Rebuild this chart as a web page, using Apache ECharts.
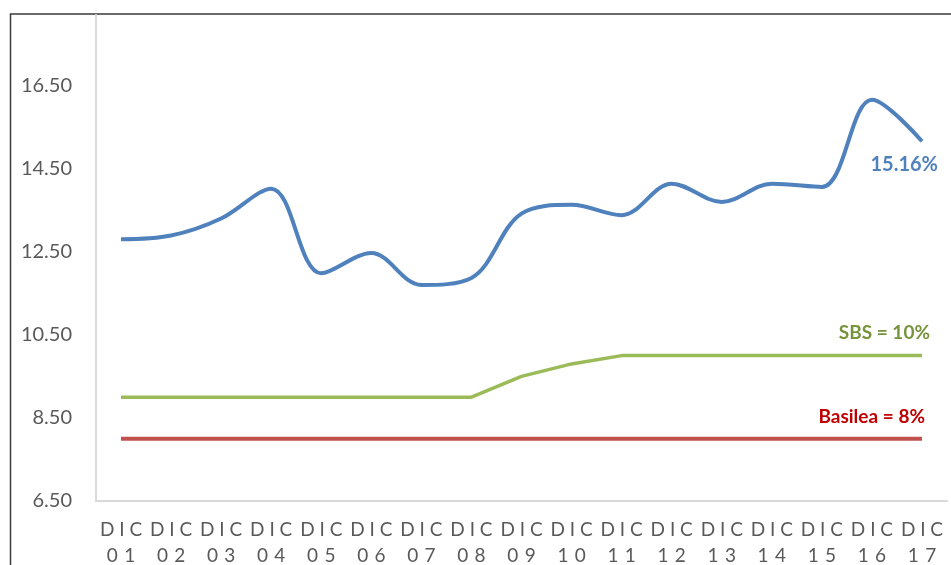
<!DOCTYPE html>
<html>
<head>
<meta charset="utf-8">
<script src="https://cdn.jsdelivr.net/npm/echarts@6/dist/echarts.min.js"></script>
<style>
  html, body { margin: 0; padding: 0; background: #ffffff; overflow: hidden; }
  #chart { width: 951px; height: 565px; }
</style>
</head>
<body>
<div id="chart"></div>
<script>
// Periods (December of each year)
const categories = ['DIC 01', 'DIC 02', 'DIC 03', 'DIC 04', 'DIC 05', 'DIC 06', 'DIC 07', 'DIC 08', 'DIC 09',
  'DIC 10', 'DIC 11', 'DIC 12', 'DIC 13', 'DIC 14', 'DIC 15', 'DIC 16', 'DIC 17'];

// Capital ratio of the system (%)
const ratioValues = [12.80, 12.89, 13.30, 14.02, 11.98, 12.47, 11.70, 11.87, 13.42,
  13.63, 13.38, 14.14, 13.70, 14.14, 14.06, 16.16, 15.16];

// SBS regulatory minimum (%)
const sbsValues = [9.0, 9.0, 9.0, 9.0, 9.0, 9.0, 9.0, 9.0, 9.5,
  9.8, 10.0, 10.0, 10.0, 10.0, 10.0, 10.0, 10.0];

// Basel minimum (%)
const basileaValues = [8.0, 8.0, 8.0, 8.0, 8.0, 8.0, 8.0, 8.0, 8.0,
  8.0, 8.0, 8.0, 8.0, 8.0, 8.0, 8.0, 8.0];

// Y axis tick labels
const yTicks = [6.5, 8.5, 10.5, 12.5, 14.5, 16.5];

const FONT = 'Lato, "Open Sans", sans-serif';
const last = categories.length - 1;

function endOnly(fmt) {
  return function (p) { return p.dataIndex === last ? fmt(p.value) : ''; };
}

const chart = echarts.init(document.getElementById('chart'), null, { renderer: 'canvas' });

chart.setOption({
  backgroundColor: '#ffffff',
  animation: false,
  grid: { left: 96, right: 4, top: 15, height: 486, containLabel: false, outerBoundsMode: 'none' },
  xAxis: {
    type: 'category',
    data: categories,
    boundaryGap: true,
    axisLine: { show: true, lineStyle: { color: '#d9d9d9', width: 2 } },
    axisTick: { show: false },
    axisLabel: {
      interval: 0,
      margin: 16,
      color: '#595959',
      fontFamily: FONT,
      fontSize: 19,
      lineHeight: 26,
      formatter: function (v) {
        const parts = v.split(' ');
        return parts[0].split('').join(' ') + '\n' + parts[1].split('').join('\u2004');
      }
    },
    splitLine: { show: false }
  },
  yAxis: {
    type: 'value',
    min: 6.5,
    max: 18.2,
    interval: 2,
    axisLine: { show: true, lineStyle: { color: '#d9d9d9', width: 2 } },
    axisTick: { show: false },
    splitLine: { show: false },
    axisLabel: {
      margin: 24,
      color: '#595959',
      fontFamily: FONT,
      fontSize: 20,
      showMaxLabel: false,
      formatter: function (v) {
        return yTicks.some(t => Math.abs(t - v) < 1e-6) ? v.toFixed(2) : '';
      }
    }
  },
  series: [
    {
      name: 'Basilea',
      type: 'line',
      data: basileaValues,
      symbol: 'circle',
      symbolSize: 0,
      showSymbol: true,
      lineStyle: { color: '#C0504D', width: 4 },
      itemStyle: { color: '#C0504D' },
      label: {
        show: true,
        position: 'top',
        align: 'right',
        distance: 12,
        offset: [3, 0],
        color: '#C00000',
        fontFamily: FONT,
        fontWeight: 'bold',
        fontSize: 19,
        formatter: endOnly(v => 'Basilea = ' + v + '%')
      },
      z: 2
    },
    {
      name: 'SBS',
      type: 'line',
      data: sbsValues,
      symbol: 'circle',
      symbolSize: 0,
      showSymbol: true,
      lineStyle: { color: '#9BBB59', width: 3.5 },
      itemStyle: { color: '#9BBB59' },
      label: {
        show: true,
        position: 'top',
        align: 'right',
        distance: 13,
        offset: [8, 0],
        color: '#77933C',
        fontFamily: FONT,
        fontWeight: 'bold',
        fontSize: 19,
        formatter: endOnly(v => 'SBS = ' + v + '%')
      },
      z: 3
    },
    {
      name: 'Coeficiente',
      type: 'line',
      data: ratioValues,
      smooth: 0.35,
      symbol: 'circle',
      symbolSize: 0,
      showSymbol: true,
      lineStyle: { color: '#4F81BD', width: 4 },
      itemStyle: { color: '#4F81BD' },
      label: {
        show: true,
        position: 'bottom',
        align: 'right',
        distance: 13,
        offset: [16, 0],
        color: '#4F81BD',
        fontFamily: FONT,
        fontWeight: 'bold',
        fontSize: 20,
        formatter: endOnly(v => v.toFixed(2) + '%')
      },
      z: 4
    }
  ],
  graphic: [
    {
      type: 'polyline',
      silent: true,
      shape: { points: [[10.5, 565], [10.5, 14], [951, 14]] },
      style: { stroke: '#3a3a3a', lineWidth: 1.5, fill: null }
    }
  ]
});
</script>
</body>
</html>
